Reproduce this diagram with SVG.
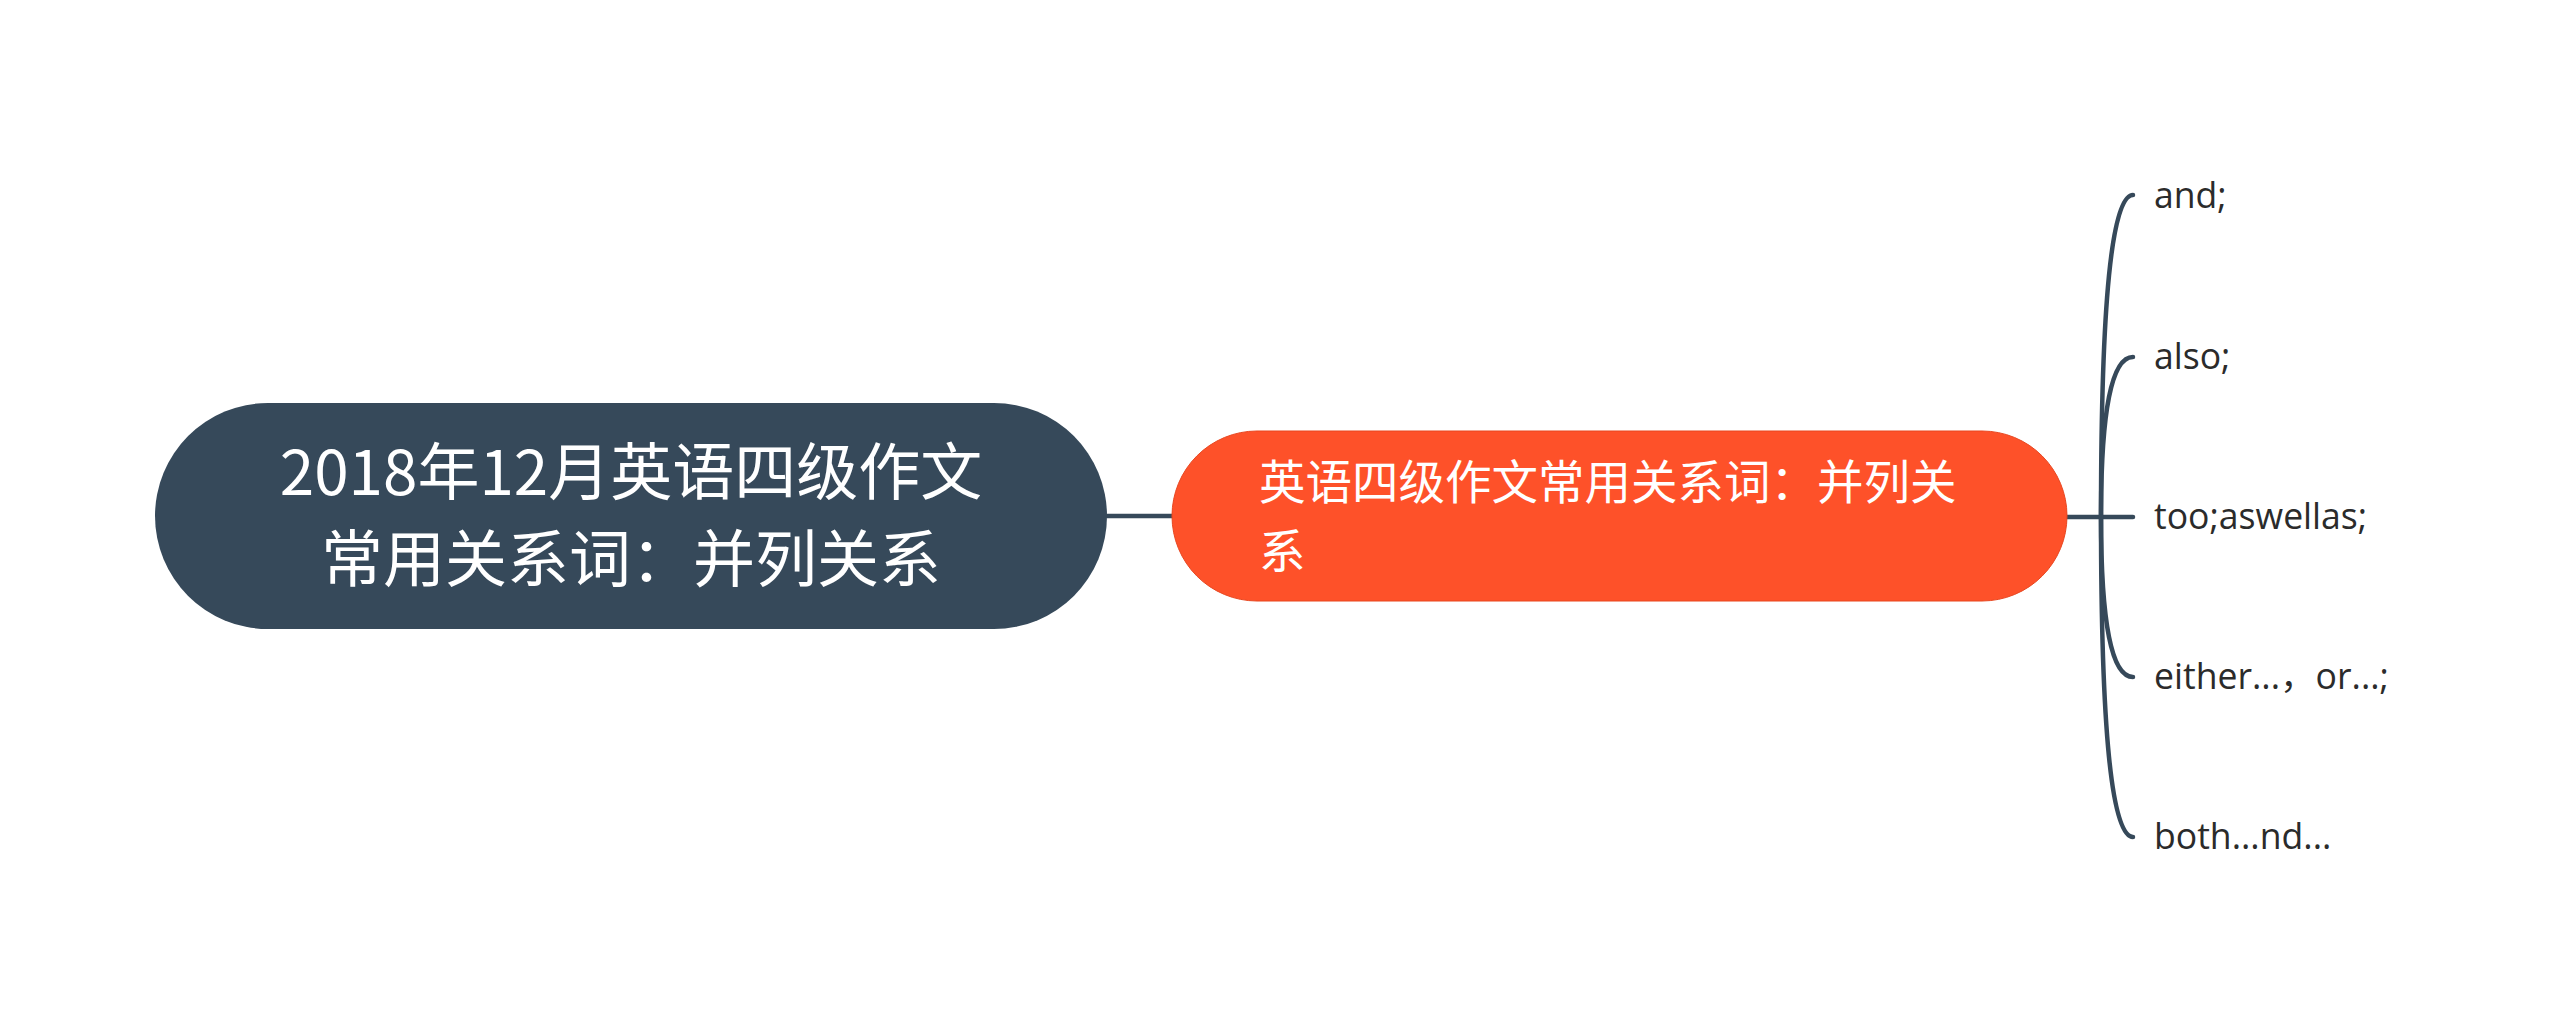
<svg xmlns="http://www.w3.org/2000/svg" width="2560" height="1034" viewBox="0 0 2560 1034">
<style>
.line{fill:none;stroke:#36495a;stroke-width:4.5;stroke-linecap:round}
.root{fill:#36495a}
.main{fill:#fe5129;stroke:#e8461f;stroke-width:1}
.rt{font-family:"Noto Sans CJK SC","Microsoft YaHei",sans-serif;font-size:62px;fill:#ffffff;text-anchor:middle}
.mt{font-family:"Noto Sans CJK SC","Microsoft YaHei",sans-serif;font-size:46.5px;fill:#ffffff}
.lt{font-family:"Open Sans","Noto Sans CJK SC",sans-serif;font-size:35.6px;fill:#2b2b2b}
</style>
<rect width="2560" height="1034" fill="#ffffff"/>
<g id="connectors">
<path class="line" d="M1107 516 H1172"/>
<path class="line" d="M2067 517 H2133"/>
<path class="line" d="M2101 517 Q2101 195 2133 195"/>
<path class="line" d="M2101 517 Q2101 357 2133 357"/>
<path class="line" d="M2101 517 Q2101 677 2133 677"/>
<path class="line" d="M2101 517 Q2101 837 2133 837"/>
</g>
<g id="root">
<rect class="root" x="155" y="403" width="952" height="226" rx="113" ry="113"/>
<text class="rt"><tspan x="631" y="495">2018年12月英语四级作文</tspan><tspan x="631" y="582">常用关系词：并列关系</tspan></text>
</g>
<g id="main">
<rect class="main" x="1172" y="431" width="895" height="170" rx="85" ry="85"/>
<text class="mt"><tspan x="1259" y="499">英语四级作文常用关系词：并列关</tspan><tspan x="1259" y="568">系</tspan></text>
</g>
<g id="leaf1"><text class="lt" x="2154" y="208">and;</text></g>
<g id="leaf2"><text class="lt" x="2154" y="369">also;</text></g>
<g id="leaf3"><text class="lt" x="2154" y="529">too;aswellas;</text></g>
<g id="leaf4"><text class="lt" x="2154" y="689">either...，or...;</text></g>
<g id="leaf5"><text class="lt" x="2154" y="849">both...nd...</text></g>
</svg>
